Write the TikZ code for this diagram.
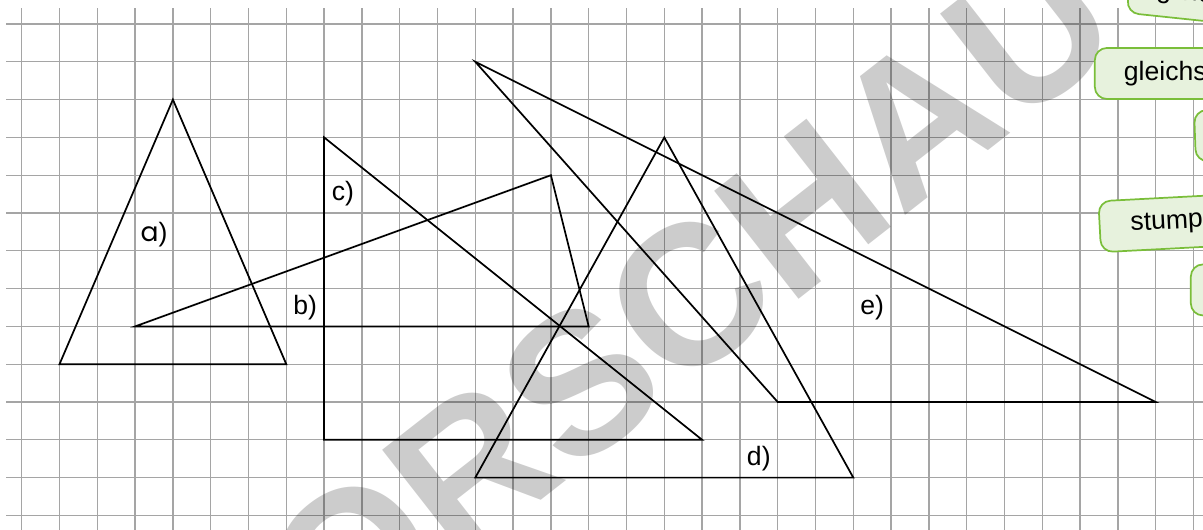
\documentclass[tikz,border=0pt]{standalone}
\usepackage{fontspec}
\setmainfont{Liberation Sans}
\newfontfamily\popfont{Poppins}
\definecolor{gridgray}{RGB}{165,165,165}
\definecolor{boxfill}{RGB}{231,242,221}
\definecolor{boxline}{RGB}{122,190,58}
\begin{document}
\begin{tikzpicture}[x=1cm,y=1cm,
  gridline/.style={draw=gridgray, line width=1pt},
  tri/.style={draw=black, line width=1.3pt, line join=miter},
  lbl/.style={font=\fontsize{20}{24}\selectfont, inner sep=0pt},
  tag/.style={draw=boxline, fill=boxfill, line width=1.3pt, rounded corners=0.32cm,
    minimum height=1.35cm, inner ysep=0pt, font=\fontsize{20}{24}\selectfont,
    text width=3.5cm, align=left, text=black},
  wmark/.style={font=\fontsize{150}{150}\selectfont\bfseries, text=black, text opacity=0.2, inner sep=0pt}
]
\useasboundingbox (0,0) rectangle (31.825,-13.995);
\clip (0,0) rectangle (31.825,-13.995);
% grid
\foreach \i in {0,...,31} \draw[gridline] (0.574+\i,-0.212) -- (0.574+\i,-14.2);
\foreach \j in {0,...,13} \draw[gridline] (0.159,-0.635-\j) -- (32,-0.635-\j);
% watermark
\node[wmark, rotate=38] (wm) at (16.85,-8.95) {VORSCHAU};
% triangles
\begin{scope}[shift={(0.574,-0.635)}]
  \coordinate (a1) at (4,-2);  \coordinate (a2) at (1,-9);  \coordinate (a3) at (7,-9);
  \coordinate (b1) at (3,-8);  \coordinate (b2) at (15,-8); \coordinate (b3) at (14,-4);
  \coordinate (c1) at (8,-3);  \coordinate (c2) at (8,-11); \coordinate (c3) at (18,-11);
  \coordinate (d1) at (17,-3); \coordinate (d2) at (12,-12); \coordinate (d3) at (22,-12);
  \coordinate (e1) at (12,-1); \coordinate (e2) at (20,-10); \coordinate (e3) at (30,-10);
  \draw[tri] (a1) -- (a2) -- (a3) -- cycle;
  \draw[tri] (b1) -- (b2) -- (b3) -- cycle;
  \draw[tri] (c1) -- (c2) -- (c3) -- cycle;
  \draw[tri] (d1) -- (d2) -- (d3) -- cycle;
  \draw[tri] (e1) -- (e2) -- (e3) -- cycle;
  \node[lbl] (la) at (3.5,-5.58) {{\popfont a})};
  \node[lbl] (lb) at (7.5,-7.5) {b)};
  \node[lbl] (lc) at (8.5,-4.5) {c)};
  \node[lbl] (ld) at (19.5,-11.5) {d)};
  \node[lbl] (le) at (22.5,-7.5) {e)};
\end{scope}
% answer tags on the right
\node[tag, anchor=south west, rotate=-6, inner xsep=0.74cm] (t1) at (29.78,-0.36) {gleic};
\node[tag, anchor=west, inner xsep=0.77cm] (t2) at (28.94,-1.944) {gleichs};
\node[tag, anchor=west, rotate=2, inner xsep=0.77cm] (t3) at (31.59,-3.6) {};
\node[tag, anchor=west, rotate=3, inner xsep=0.82cm] (t4) at (29.07,-6.0) {stump};
\node[tag, anchor=west, inner xsep=0.77cm] (t5) at (31.48,-7.67) {};
\end{tikzpicture}
\end{document}
